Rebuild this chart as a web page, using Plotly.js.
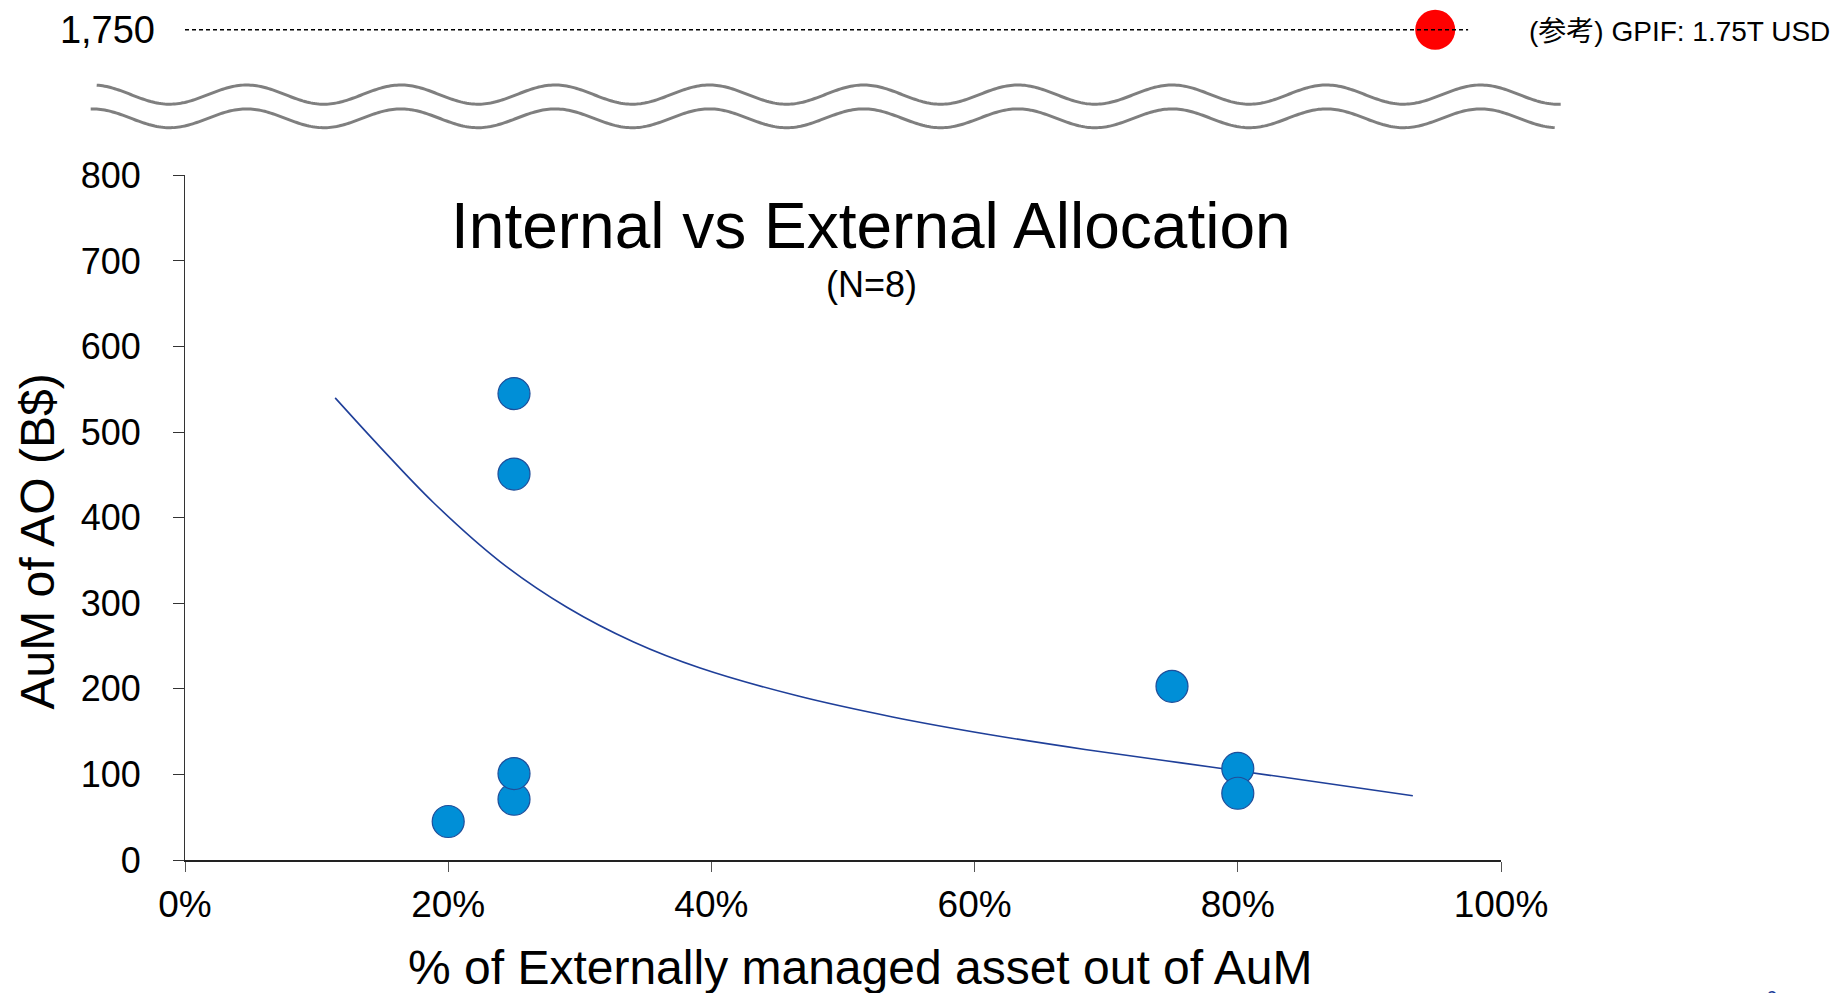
<!DOCTYPE html>
<html>
<head>
<meta charset="utf-8">
<script src="https://cdn.plot.ly/plotly-3.0.1.min.js"></script>
<style>
  html, body { margin: 0; padding: 0; background: #ffffff; }
  #chart { width: 1834px; height: 993px; }
</style>
</head>
<body>
<div id="chart"></div>
<script>
// ---- data ----
const externalShare = [0.20, 0.25, 0.25, 0.25, 0.25, 0.75, 0.80, 0.80];
const aumBillions   = [45, 71, 101, 451, 545, 203, 107, 78];

const trendX = [0.1141, 0.1483, 0.1889, 0.2396, 0.2902, 0.3409, 0.3915, 0.466, 0.5377, 0.6108, 0.6839, 0.757, 0.830, 0.933];
const trendY = [540, 482.5, 417.5, 348.5, 295.4, 254.8, 224.4, 191.6, 167.2, 146.7, 129.2, 113.5, 97.8, 75.1];

const gpifX = [0.95];
const gpifY = [1750];
const gpifLabel = "(参考) GPIF: 1.75T USD";

const yTicks = [0, 100, 200, 300, 400, 500, 600, 700, 800];
const xTicks = [0, 0.2, 0.4, 0.6, 0.8, 1.0];
const xTickText = ["0%", "20%", "40%", "60%", "80%", "100%"];

// ---- layout geometry ----
const W = 1834, H = 993;
const mL = 185, mR = 333, mT = 0, mB = 133;
const plotW = W - mL - mR, plotH = H - mT - mB;
const FONT = "Liberation Sans, Arial, Noto Sans CJK JP, sans-serif";

function px2paperX(px) { return (px - mL) / plotW; }
function px2paperY(py) { return (plotH + mT - py) / plotH; }

// decorative axis-break waves (pixel geometry -> paper coords)
function wavePath(xStart, xEnd, yc, amp, phase0, period) {
  let d = "";
  for (let x = xStart; x <= xEnd + 0.01; x += 2) {
    const y = yc - amp * Math.cos(2 * Math.PI * (x - phase0) / period);
    d += (d === "" ? "M" : " L") + px2paperX(x).toFixed(5) + "," + px2paperY(y).toFixed(5);
  }
  return d;
}

const traces = [
  {
    type: "scatter", mode: "lines",
    x: trendX, y: trendY,
    line: { color: "#1F3F99", width: 1.6, shape: "spline", smoothing: 1 },
    hoverinfo: "skip", showlegend: false
  },
  {
    type: "scatter", mode: "markers",
    x: externalShare, y: aumBillions,
    marker: { size: 32, color: "#008FD7", line: { color: "#1F4E9A", width: 1.2 } },
    showlegend: false, cliponaxis: false
  },
  {
    type: "scatter", mode: "markers",
    x: gpifX, y: gpifY, yaxis: "y2",
    marker: { size: 40, color: "#FF0000", line: { width: 0 } },
    showlegend: false, cliponaxis: false
  }
];

const layout = {
  width: W, height: H,
  margin: { l: mL, r: mR, t: mT, b: mB, pad: 0 },
  paper_bgcolor: "#ffffff", plot_bgcolor: "rgba(0,0,0,0)",
  font: { family: FONT, color: "#000000", size: 36 },
  showlegend: false,
  xaxis: {
    range: [0, 1], tickvals: xTicks, ticktext: xTickText,
    showgrid: false, zeroline: false,
    showline: true, linecolor: "#222222", linewidth: 1.5,
    ticks: "outside", ticklen: 10, tickcolor: "#555555", tickwidth: 1,
    tickfont: { size: 37, family: FONT, color: "#000000" },
    ticklabelstandoff: 1,
    anchor: "y", fixedrange: true
  },
  yaxis: {
    domain: [0, (plotH - 175.4) / plotH],
    range: [0, 800], tickvals: yTicks,
    showgrid: false, zeroline: false,
    showline: true, linecolor: "#333333", linewidth: 1,
    ticks: "outside", ticklen: 11, tickcolor: "#333333", tickwidth: 1,
    tickfont: { size: 36, family: FONT, color: "#000000" },
    ticklabelstandoff: 25,
    anchor: "x", fixedrange: true
  },
  yaxis2: {
    domain: [0.9, 1.0],
    range: [1652, 1802],
    tickvals: [1750], ticktext: ["1,750"],
    showgrid: false, zeroline: false, showline: false,
    ticks: "", tickfont: { size: 38, family: FONT, color: "#000000" },
    ticklabelstandoff: 29,
    anchor: "x", fixedrange: true
  },
  shapes: [
    { type: "line", xref: "x", yref: "y2", x0: 0, x1: 0.975, y0: 1750, y1: 1750,
      line: { color: "#000000", width: 1.5, dash: "4px,3px" }, layer: "above" },
    { type: "path", xref: "paper", yref: "paper",
      path: wavePath(96.7, 1561.4, 94.6, 9.6, 92.4, 154.25),
      line: { color: "#7F7F7F", width: 3 } },
    { type: "path", xref: "paper", yref: "paper",
      path: wavePath(90.7, 1555.6, 118.3, 9.4, 92.4, 154.25),
      line: { color: "#7F7F7F", width: 3 } }
  ],
  annotations: [
    { text: "Internal vs External Allocation", xref: "paper", yref: "paper",
      x: px2paperX(871), y: px2paperY(226), xanchor: "center", yanchor: "middle",
      showarrow: false, font: { size: 64, family: FONT, color: "#000000" } },
    { text: "(N=8)", xref: "paper", yref: "paper",
      x: px2paperX(871), y: px2paperY(284), xanchor: "center", yanchor: "middle",
      showarrow: false, font: { size: 36, family: FONT, color: "#000000" } },
    { text: "% of Externally managed asset out of AuM", xref: "paper", yref: "paper",
      x: px2paperX(860), y: px2paperY(967), xanchor: "center", yanchor: "middle",
      showarrow: false, font: { size: 48, family: FONT, color: "#000000" } },
    { text: "AuM of AO (B$)", xref: "paper", yref: "paper", textangle: -90,
      x: px2paperX(37), y: px2paperY(541.5), xanchor: "center", yanchor: "middle",
      showarrow: false, font: { size: 48, family: FONT, color: "#000000" } },
    { text: gpifLabel, xref: "paper", yref: "y2",
      x: px2paperX(1527), y: gpifY[0], xanchor: "left", yanchor: "middle", yshift: -2,
      showarrow: false, font: { size: 28, family: FONT, color: "#000000" } },
    { text: "6", xref: "paper", yref: "paper",
      x: px2paperX(1772), y: px2paperY(985), xanchor: "center", yanchor: "top",
      showarrow: false, font: { size: 20, family: FONT, color: "#1F3F99" } }
  ]
};

Plotly.newPlot("chart", traces, layout, { staticPlot: true, displayModeBar: false });
</script>
</body>
</html>
